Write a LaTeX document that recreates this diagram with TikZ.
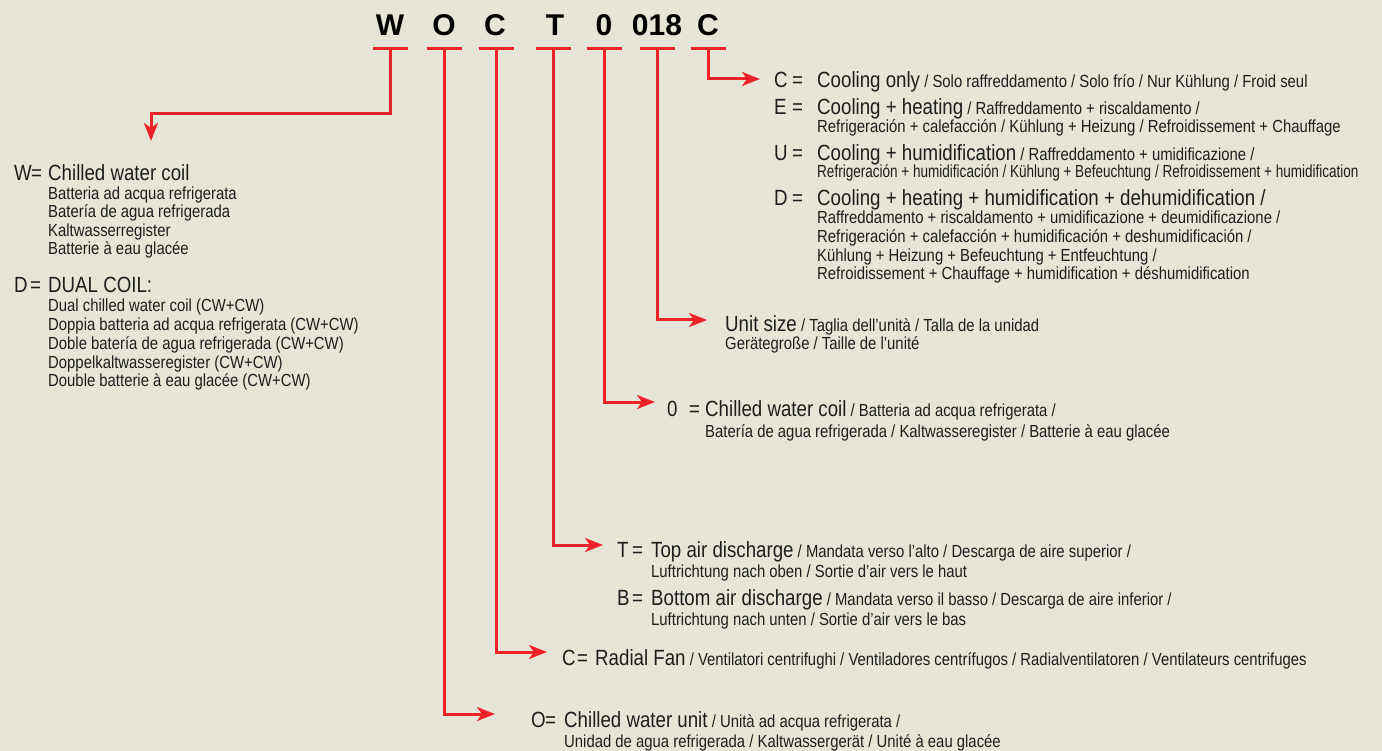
\documentclass[tikz,border=0pt]{standalone}
\usepackage{fontspec}
\usepackage{graphicx}
\setmainfont{Liberation Sans}[FakeStretch=0.85]
\newfontfamily\titlefont{Liberation Sans}
\usetikzlibrary{arrows.meta}
\definecolor{bgc}{HTML}{E7E5D7}
\definecolor{codered}{HTML}{EE2229}
\definecolor{ink}{HTML}{1E1E1E}
\newcommand\bigfs{\fontsize{22}{26}\selectfont}
\newcommand\smfs{\fontsize{17.5}{19}\selectfont}
\tikzset{
  redln/.style={draw=codered, line width=3pt},
  arr/.style={redln, -{Stealth[length=18pt,width=14pt,inset=5pt]}},
  title/.style={anchor=base, inner sep=0pt, text=black, font=\titlefont\bfseries\fontsize{30}{32}\selectfont},
  lab/.style={anchor=base west, inner sep=0pt, text=ink, font=\bigfs},
  txt/.style={anchor=base west, inner sep=0pt, text=ink, font=\smfs},
}
\begin{document}
\begin{tikzpicture}[x=1pt,y=-1pt]
\fill[bgc] (0,0) rectangle (1382,751);
\useasboundingbox (0,0) rectangle (1382,751);
% title letters
\node[title] (tW) at (390,36) {W};
\node[title] (tO) at (444,36) {O};
\node[title] (tC) at (495,36) {C};
\node[title] (tT) at (555,36) {T};
\node[title] (t0) at (604,36) {0};
\node[title] (t018) at (657,36) {018};
\node[title] (tC2) at (708,36) {C};
% bar centres
\coordinate (bW) at (390,49);
\coordinate (bO) at (444,49);
\coordinate (bC) at (496,49);
\coordinate (bT) at (553,49);
\coordinate (b0) at (604,49);
\coordinate (b018) at (657,49);
\coordinate (bC2) at (708,49);
\foreach \b in {bW,bO,bC,bT,b0,b018,bC2}
  \draw[redln] ([xshift=-17.5pt]\b) -- ([xshift=17.5pt]\b);
% arrow ends
\coordinate (kW) at (151,114);
\coordinate (tipW) at (151,141);
\coordinate (tipC2) at (760,79);
\coordinate (tip018) at (707,320);
\coordinate (tip0) at (655,402);
\coordinate (tipT) at (603,545);
\coordinate (tipCr) at (547,652);
\coordinate (tipO) at (495,714);
\draw[arr] (bW) |- (kW) -- (tipW);
\draw[arr] (bC2) |- (tipC2);
\draw[arr] (b018) |- (tip018);
\draw[arr] (b0) |- (tip0);
\draw[arr] (bT) |- (tipT);
\draw[arr] (bC) |- (tipCr);
\draw[arr] (bO) |- (tipO);
% top right block
\node[lab] (lC) at (774,88) {\makebox[18pt][l]{C}=};
\node[txt] (xC) at (817,88) {{\bigfs Cooling only} / Solo raffreddamento / Solo frío / Nur Kühlung / Froid seul};
\node[lab] (lE) at (774,115) {\makebox[18pt][l]{E}=};
\node[txt] (xE) at (817,115) {{\bigfs Cooling + heating} / Raffreddamento + riscaldamento /};
\node[txt] (xE2) at (817,133) {Refrigeración + calefacción / Kühlung + Heizung / Refroidissement + Chauffage};
\node[lab] (lU) at (774,161) {\makebox[18pt][l]{U}=};
\node[txt] (xU) at (817,161) {{\bigfs Cooling + humidification} / Raffreddamento + umidificazione /};
\node[txt] (xU2) at (817,178) {\scalebox{0.91}[1]{Refrigeración + humidificación / Kühlung + Befeuchtung / Refroidissement + humidification}};
\node[lab] (lD) at (774,206) {\makebox[18pt][l]{D}=};
\node[lab] (xD) at (817,206) {Cooling + heating + humidification + dehumidification /};
\node[txt] (xD2) at (817,224) {Raffreddamento + riscaldamento + umidificazione + deumidificazione /};
\node[txt] (xD3) at (817,243) {Refrigeración + calefacción + humidificación + deshumidificación /};
\node[txt] (xD4) at (817,262) {Kühlung + Heizung + Befeuchtung + Entfeuchtung /};
\node[txt] (xD5) at (817,280) {Refroidissement + Chauffage + humidification + déshumidification};
% left block
\node[lab] (lW) at (14,181) {\makebox[17pt][l]{W}=};
\node[lab] (xW) at (48,181) {Chilled water coil};
\node[txt] (xW2) at (48,200) {Batteria ad acqua refrigerata};
\node[txt] (xW3) at (48,218) {Batería de agua refrigerada};
\node[txt] (xW4) at (48,237) {Kaltwasserregister};
\node[txt] (xW5) at (48,255) {Batterie à eau glacée};
\node[lab] (lDD) at (14,293) {\makebox[16pt][l]{D}=};
\node[lab] (xDD) at (48,293) {DUAL COIL:};
\node[txt] (xDD2) at (48,312) {Dual chilled water coil (CW+CW)};
\node[txt] (xDD3) at (48,331) {Doppia batteria ad acqua refrigerata (CW+CW)};
\node[txt] (xDD4) at (48,349) {Doble batería de agua refrigerada (CW+CW)};
\node[txt] (xDD5) at (48,368) {Doppelkaltwasseregister (CW+CW)};
\node[txt] (xDD6) at (48,387) {Double batterie à eau glacée (CW+CW)};
% unit size
\node[txt] (xS) at (725,332) {{\bigfs Unit size} / Taglia dell’unità / Talla de la unidad};
\node[txt] (xS2) at (725,350) {Gerätegroße / Taille de l’unité};
% 0
\node[lab] (l0) at (667,417) {\makebox[22pt][l]{0}=};
\node[txt] (x0) at (705,417) {{\bigfs Chilled water coil} / Batteria ad acqua refrigerata /};
\node[txt] (x02) at (705,437) {Batería de agua refrigerada / Kaltwasseregister / Batterie à eau glacée};
% T and B
\node[lab] (lT) at (617,557) {\makebox[15pt][l]{T}=};
\node[txt] (xT) at (651,557) {{\bigfs Top air discharge} / Mandata verso l’alto / Descarga de aire superior /};
\node[txt] (xT2) at (651,577) {Luftrichtung nach oben / Sortie d’air vers le haut};
\node[lab] (lB) at (617,605) {\makebox[15pt][l]{B}=};
\node[txt] (xB) at (651,605) {{\bigfs Bottom air discharge} / Mandata verso il basso / Descarga de aire inferior /};
\node[txt] (xB2) at (651,625) {Luftrichtung nach unten / Sortie d’air vers le bas};
% C radial
\node[lab] (lCr) at (562,665) {\makebox[15pt][l]{C}=};
\node[txt] (xCr) at (595,665) {{\bigfs Radial Fan} / Ventilatori centrifughi / Ventiladores centrífugos / Radialventilatoren / Ventilateurs centrifuges};
% O
\node[lab] (lO) at (531,727) {\makebox[14pt][l]{O}=};
\node[txt] (xO) at (564,727) {{\bigfs Chilled water unit} / Unità ad acqua refrigerata /};
\node[txt] (xO2) at (564,747) {Unidad de agua refrigerada / Kaltwassergerät / Unité à eau glacée};
\end{tikzpicture}
\end{document}
